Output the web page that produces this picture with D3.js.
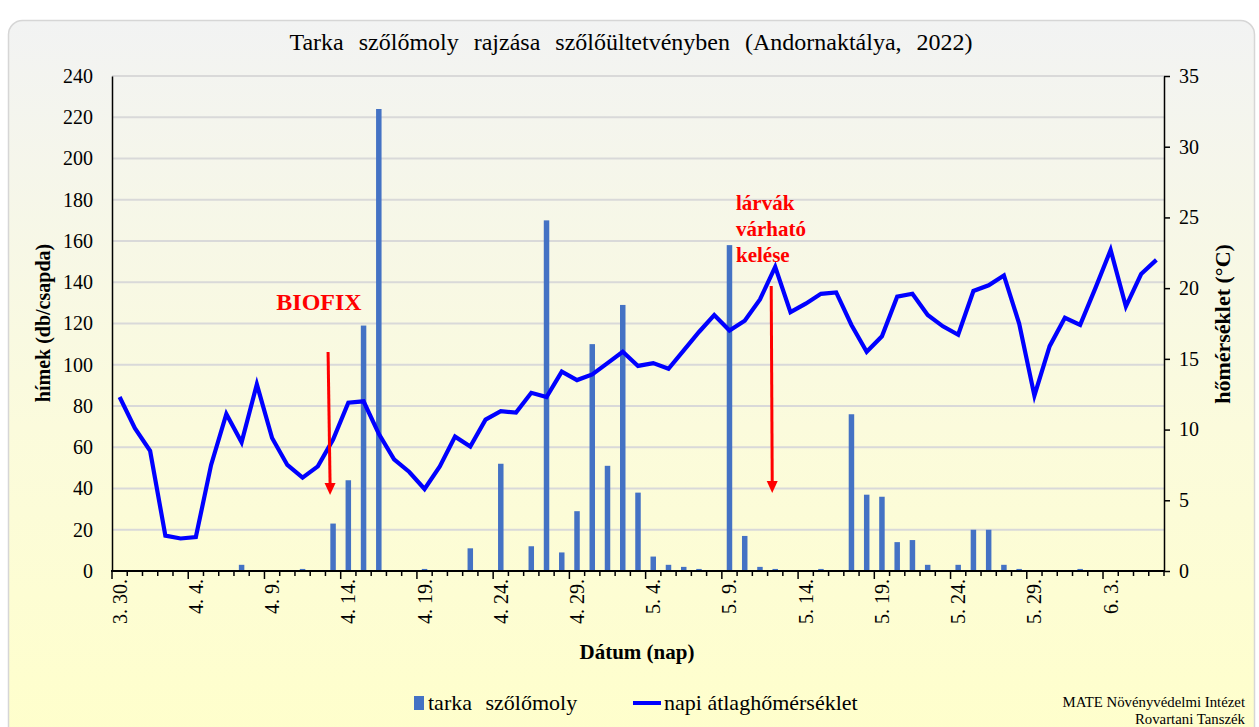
<!DOCTYPE html>
<html><head><meta charset="utf-8">
<script src="https://cdn.jsdelivr.net/npm/d3@7"></script>
<style>
html,body{margin:0;padding:0;background:#fff;}
svg{display:block;}
svg text{font-family:"Liberation Serif","Times New Roman",serif;fill:#000;}
</style></head>
<body>
<svg id="chart" width="1259" height="727" font-family="Liberation Serif"></svg>
<script>
// ---- DATA ----
const dates = [
 "3. 30.","3. 31.",
 "4. 1.","4. 2.","4. 3.","4. 4.","4. 5.","4. 6.","4. 7.","4. 8.","4. 9.","4. 10.",
 "4. 11.","4. 12.","4. 13.","4. 14.","4. 15.","4. 16.","4. 17.","4. 18.","4. 19.","4. 20.",
 "4. 21.","4. 22.","4. 23.","4. 24.","4. 25.","4. 26.","4. 27.","4. 28.","4. 29.","4. 30.",
 "5. 1.","5. 2.","5. 3.","5. 4.","5. 5.","5. 6.","5. 7.","5. 8.","5. 9.","5. 10.",
 "5. 11.","5. 12.","5. 13.","5. 14.","5. 15.","5. 16.","5. 17.","5. 18.","5. 19.","5. 20.",
 "5. 21.","5. 22.","5. 23.","5. 24.","5. 25.","5. 26.","5. 27.","5. 28.","5. 29.","5. 30.","5. 31.",
 "6. 1.","6. 2.","6. 3.","6. 4.","6. 5.","6. 6."
];
const moths = [
 0,0,0,0,0,0,0,0,3,0,
 0,0,1,0,23,44,119,224,0,0,
 1,0,0,11,0,52,0,12,170,9,
 29,110,51,129,38,7,3,2,1,0,
 158,17,2,1,0,0,1,0,76,37,
 36,14,15,3,0,3,20,20,3,1,
 0,0,0,1,0,0,0,0,0
];
const temps = [
 12.3,10.1,8.5,2.5,2.3,2.4,7.5,11.1,9.1,13.2,
 9.4,7.5,6.6,7.4,9.3,11.9,12.0,9.7,7.9,7.0,
 5.8,7.4,9.5,8.8,10.7,11.3,11.2,12.6,12.3,14.1,
 13.5,13.9,14.7,15.5,14.5,14.7,14.3,15.6,16.9,18.1,
 17.0,17.7,19.2,21.5,18.3,18.9,19.6,19.7,17.4,15.5,
 16.6,19.4,19.6,18.1,17.3,16.7,19.8,20.2,20.9,17.5,
 12.4,15.9,17.9,17.4,20.0,22.7,18.7,21.0,22.0
];
const leftTicks = [0,20,40,60,80,100,120,140,160,180,200,220,240];
const rightTicks = [0,5,10,15,20,25,30,35];
const labelEvery = 5;
const title = "Tarka szőlőmoly rajzása szőlőültetvényben (Andornaktálya, 2022)";
const seriesNames = ["tarka szőlőmoly","napi átlaghőmérséklet"];
const annotations = [
 {lines:["BIOFIX"], date:"4. 13."},
 {lines:["lárvák","várható","kelése"], date:"5. 12."}
];

// ---- LAYOUT ----
const FONT = "Liberation Serif";
const svg = d3.select("#chart");
const plot = {left:112, right:1164, top:76, bottom:571};

const defs = svg.append("defs");
const grad = defs.append("linearGradient").attr("id","bg").attr("x1",0).attr("y1",0).attr("x2",0).attr("y2",1);
grad.append("stop").attr("offset","0%").attr("stop-color","#f2f3f3");
grad.append("stop").attr("offset","55%").attr("stop-color","#fbfbdc");
grad.append("stop").attr("offset","100%").attr("stop-color","#ffffca");

svg.append("rect").attr("x",8.5).attr("y",20.5).attr("width",1246).attr("height",740)
  .attr("rx",14).attr("fill","url(#bg)").attr("stroke","#d6d6d6").attr("stroke-width",1.5);

const x = d3.scaleBand().domain(dates).range([plot.left, plot.right]).padding(0);
const yL = d3.scaleLinear().domain([0,240]).range([plot.bottom, plot.top]);
const yR = d3.scaleLinear().domain([0,35]).range([plot.bottom, plot.top]);
const bw = x.bandwidth();

// gridlines
svg.append("g").selectAll("line").data(leftTicks.filter(d=>d>0)).join("line")
  .attr("x1",plot.left).attr("x2",plot.right)
  .attr("y1",d=>yL(d)).attr("y2",d=>yL(d))
  .attr("stroke","#d9d9d9").attr("stroke-width",2);

// bars
const barW = bw*0.36;
svg.append("g").selectAll("rect").data(dates.map((d,i)=>({d,v:moths[i]})).filter(o=>o.v>0)).join("rect")
  .attr("x",o=>x(o.d)+bw/2-barW/2).attr("width",barW)
  .attr("y",o=>yL(o.v)).attr("height",o=>yL(0)-yL(o.v))
  .attr("fill","#4472c4");

// line
const line = d3.line().x((v,i)=>x(dates[i])+bw/2).y(v=>yR(v));
svg.append("path").datum(temps).attr("d",line).attr("fill","none")
  .attr("stroke","#0000ff").attr("stroke-width",4.2).attr("stroke-linejoin","miter");

// left axis
const axL = svg.append("g").attr("transform",`translate(${plot.left},0)`)
  .call(d3.axisLeft(yL).tickValues(leftTicks).tickSize(0).tickPadding(19));
axL.attr("font-family",FONT).attr("font-size",20);
axL.select(".domain").attr("stroke","#000").attr("stroke-width",1.5);
axL.selectAll("text").attr("font-family",FONT).style("font-family",FONT).style("font-size","20px");

// right axis
const axR = svg.append("g").attr("transform",`translate(${plot.right},0)`)
  .call(d3.axisRight(yR).tickValues(rightTicks).tickSize(6).tickSizeOuter(0).tickPadding(9));
axR.attr("font-family",FONT).attr("font-size",20);
axR.select(".domain").attr("stroke","#000").attr("stroke-width",1.5);
axR.selectAll(".tick line").attr("stroke","#000").attr("stroke-width",1.5);
axR.selectAll("text").attr("font-family",FONT).style("font-family",FONT).style("font-size","20px");

// bottom axis
const gB = svg.append("g");
gB.append("line").attr("x1",plot.left-1).attr("x2",plot.right+1).attr("y1",plot.bottom).attr("y2",plot.bottom)
  .attr("stroke","#000").attr("stroke-width",2);
const tickPos = dates.map((d,i)=>({x:x(d), major:i%labelEvery===0}));
tickPos.push({x:plot.right, major:false});
gB.selectAll("line.t").data(tickPos).join("line").attr("class","t")
  .attr("x1",t=>t.x).attr("x2",t=>t.x).attr("y1",plot.bottom).attr("y2",t=>plot.bottom+(t.major?8:5))
  .attr("stroke","#000").attr("stroke-width",1.5);
gB.selectAll("text").data(dates.filter((d,i)=>i%labelEvery===0)).join("text")
  .attr("transform",d=>`translate(${x(d)+bw/2},${plot.bottom+8}) rotate(-90)`)
  .attr("text-anchor","end").attr("dy","0.35em")
  .style("font-size","20px").text(d=>d);

// title & axis titles
svg.append("text").attr("x",631).attr("y",50).attr("text-anchor","middle")
  .style("font-size","24px").style("word-spacing","9px").text(title);
svg.append("text").attr("transform","translate(50,323) rotate(-90)").attr("text-anchor","middle")
  .style("font-size","20px").style("font-weight","bold").text("hímek (db/csapda)");
svg.append("text").attr("transform","translate(1230,324) rotate(-90)").attr("text-anchor","middle")
  .style("font-size","22px").style("font-weight","bold").text("hőmérséklet (°C)");
svg.append("text").attr("x",637).attr("y",659).attr("text-anchor","middle")
  .style("font-size","21px").style("font-weight","bold").text("Dátum (nap)");

// legend
const lg = svg.append("g");
lg.append("rect").attr("x",414).attr("y",696).attr("width",10).attr("height",14).attr("fill","#4472c4");
lg.append("text").attr("x",428).attr("y",710).style("font-size","22px").style("word-spacing","8px").text(seriesNames[0]);
lg.append("line").attr("x1",633).attr("x2",661).attr("y1",703).attr("y2",703).attr("stroke","#0000ff").attr("stroke-width",4);
lg.append("text").attr("x",664).attr("y",710).style("font-size","22px").text(seriesNames[1]);

// footer
svg.append("text").attr("x",1245).attr("y",707).attr("text-anchor","end").style("font-size","14.8px").text("MATE Növényvédelmi Intézet");
svg.append("text").attr("x",1245).attr("y",724).attr("text-anchor","end").style("font-size","14.8px").text("Rovartani Tanszék");

// annotations
function arrow(xTop, yTop, xBot, yBot){
  const headH = 12, headW = 11;
  svg.append("line").attr("x1",xTop).attr("y1",yTop).attr("x2",xBot).attr("y2",yBot-headH+1)
    .attr("stroke","#ff0000").attr("stroke-width",3);
  svg.append("path").attr("d",`M${xBot-headW/2},${yBot-headH} L${xBot+headW/2},${yBot-headH} L${xBot},${yBot} Z`)
    .attr("fill","#ff0000");
}
const a1 = annotations[0], a2 = annotations[1];
const ax1 = x(a1.date)+bw/2 - 3;
svg.append("text").attr("x",319).attr("y",310).attr("text-anchor","middle")
  .style("font-size","24px").style("font-weight","bold").style("fill","#ff0000").text(a1.lines[0]);
arrow(ax1-2, 352, ax1, 495);
const ax2 = x(a2.date)+bw/2 - 3;
a2.lines.forEach((t,k)=>{
  svg.append("text").attr("x",736).attr("y",210+k*26)
    .style("font-size","21px").style("font-weight","bold").style("fill","#ff0000").text(t);
});
arrow(ax2-1, 286, ax2, 493);
</script>
</body></html>
